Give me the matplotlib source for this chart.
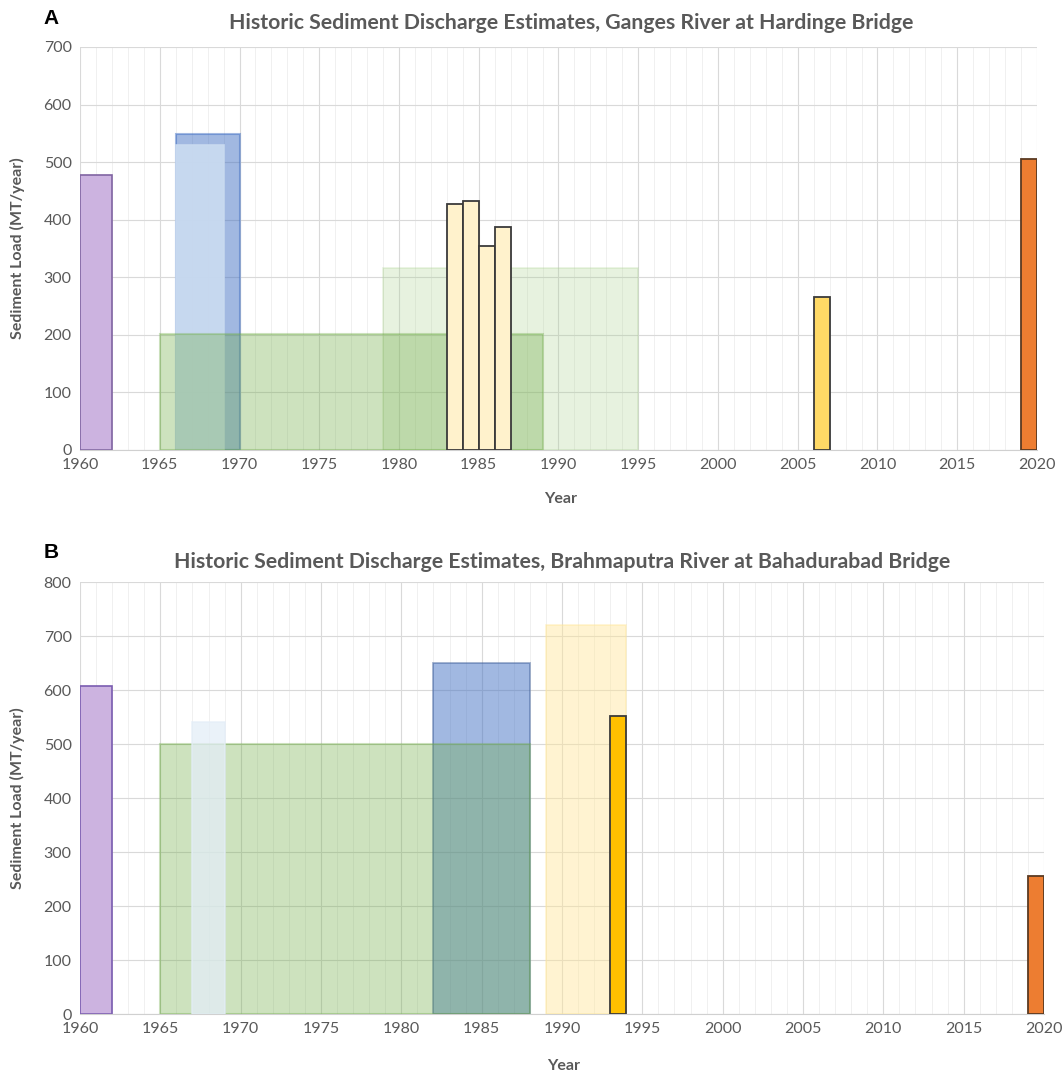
import matplotlib
matplotlib.use("Agg")
import matplotlib.pyplot as plt
from matplotlib.ticker import MultipleLocator

plt.rcParams['font.family'] = ['Lato', 'DejaVu Sans']

# ---- panel A : Ganges at Hardinge Bridge ----
# each estimate: (start year, end year, load MT/yr)
a_purple = (1960, 1962, 478)
a_blue = (1966, 1970, 548)
a_lightblue = (1966, 1969, 529)
a_lightgreen = (1979, 1995, 316)
a_green = (1965, 1989, 202)
a_yellow_years = [1983, 1984, 1985, 1986]
a_yellow_vals = [427, 433, 354, 388]
a_gold = (2006, 2007, 265)
a_orange = (2019, 2020, 505)

# ---- panel B : Brahmaputra at Bahadurabad ----
b_purple = (1960, 1962, 608)
b_blue = (1982, 1988, 650)
b_green = (1965, 1988, 500)
b_lightblue = (1967, 1969, 540)
b_lightyellow = (1989, 1994, 721)
b_gold = (1993, 1994, 552)
b_orange = (2019, 2020, 256)

grey = '#595959'


def block(ax, span, fc, ec, alpha=1.0, lw=1.2, z=2):
    x0, x1, h = span
    ax.bar(x0, h, width=x1 - x0, align='edge', color=fc, alpha=alpha,
           edgecolor=ec, linewidth=lw, zorder=z)


def style(ax, ymax, title, tx, tpad):
    ax.set_xlim(1960, 2020)
    ax.set_ylim(0, ymax)
    ax.xaxis.set_major_locator(MultipleLocator(5))
    ax.xaxis.set_minor_locator(MultipleLocator(1))
    ax.yaxis.set_major_locator(MultipleLocator(100))
    ax.grid(which='major', color='#d9d9d9', linewidth=0.8, zorder=0)
    ax.grid(which='minor', axis='x', color='#f0f0f0', linewidth=0.7, zorder=0)
    ax.set_axisbelow(True)
    for s in ['top', 'right', 'left']:
        ax.spines[s].set_visible(False)
    ax.spines['bottom'].set_color('#d0d0d0')
    ax.tick_params(which='both', length=0, labelsize=11.5, labelcolor=grey, pad=6)
    ax.set_xlabel('Year', fontsize=11.5, fontweight='bold', color=grey)
    ax.xaxis.set_label_coords(0.502, -0.105)
    ax.set_ylabel('Sediment Load (MT/year)', fontsize=11.5, fontweight='bold', color=grey)
    ax.yaxis.set_label_coords(-0.057, 0.5)
    ax.set_title(title, fontsize=15.3, fontweight='bold', color=grey, pad=tpad, x=tx)


fig = plt.figure(figsize=(10.64, 10.75), dpi=100)

axA = fig.add_axes([0.0752, 0.5814, 0.8994, 0.3749])
block(axA, a_purple, '#ccb3e0', '#8064a2')
block(axA, a_blue, '#4472c4', '#4472c4', alpha=0.5, lw=1.5)
block(axA, a_lightblue, '#c9daf0', '#c9daf0', alpha=0.95, z=3)
block(axA, a_lightgreen, '#a9d18e', '#a9d18e', alpha=0.28, z=4)
block(axA, a_green, '#70ad47', '#70ad47', alpha=0.35, lw=1.5, z=5)
axA.bar(a_yellow_years, a_yellow_vals, width=1, align='edge', color='#fff2cc',
        edgecolor='#3a3a3a', linewidth=1.3, zorder=6)
block(axA, a_gold, '#ffd966', '#3a3a3a', lw=1.3, z=6)
block(axA, a_orange, '#ed7d31', '#5a3a22', lw=1.3, z=6)
style(axA, 700, 'Historic Sediment Discharge Estimates, Ganges River at Hardinge Bridge',
      0.513, 13)
fig.text(0.041, 0.983, 'A', fontsize=15, fontweight='bold', family='Liberation Sans',
         ha='left', va='center')

axB = fig.add_axes([0.0752, 0.0567, 0.906, 0.4019])
block(axB, b_purple, '#ccb3e0', '#7a5cb0')
block(axB, b_blue, '#4472c4', '#3f5f9a', alpha=0.5, lw=1.3)
block(axB, b_green, '#70ad47', '#70ad47', alpha=0.35, lw=1.5, z=4)
block(axB, b_lightblue, '#e4eef8', '#e4eef8', alpha=0.75, z=5)
block(axB, b_lightyellow, '#ffe699', '#ffe699', alpha=0.45, z=4)
block(axB, b_gold, '#ffc000', '#3a3a3a', lw=1.3, z=6)
block(axB, b_orange, '#ed7d31', '#5a3a22', lw=1.3, z=6)
style(axB, 800, 'Historic Sediment Discharge Estimates, Brahmaputra River at Bahadurabad Bridge',
      0.5, 10)
fig.text(0.041, 0.486, 'B', fontsize=15, fontweight='bold', family='Liberation Sans',
         ha='left', va='center')

fig.savefig('out.png', dpi=100)
